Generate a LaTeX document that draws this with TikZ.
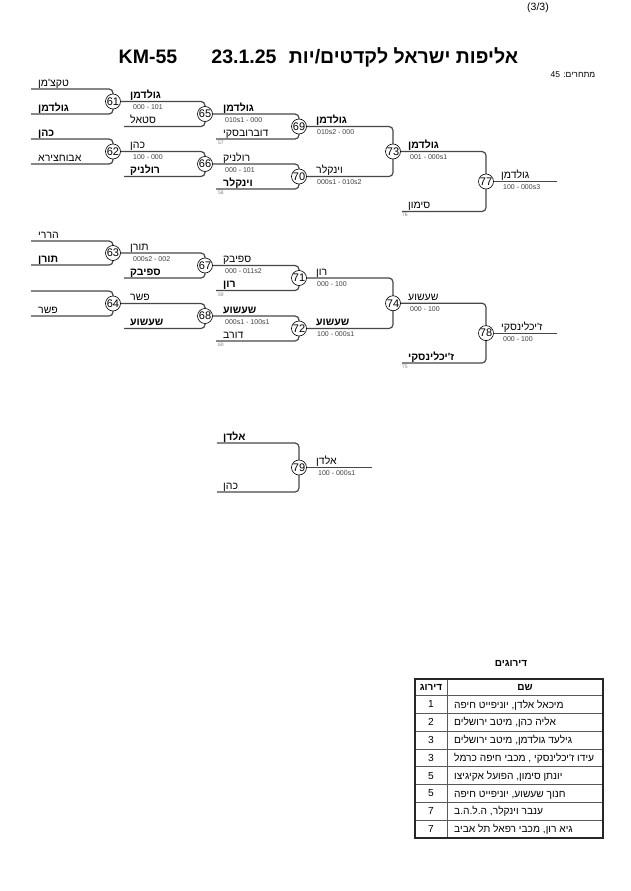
\documentclass[tikz,border=0pt]{standalone}
\usepackage{fontspec}
\setmainfont{Liberation Sans}
\newfontfamily\heb[Script=Hebrew]{Liberation Sans}
\TeXXeTstate=1
\newcommand\HB[1]{{\heb\beginR #1\endR}}
\definecolor{linec}{gray}{0.28}
\definecolor{scorec}{gray}{0.25}
\tikzset{
 br/.style={draw=linec, line width=1.2pt, rounded corners=4pt},
 num/.style={circle, draw=black, fill=white, line width=0.6pt, minimum size=15pt, inner sep=0pt, font=\fontsize{11}{11}\selectfont},
 nm/.style={anchor=base west, inner sep=0pt, font=\fontsize{10.5}{11}\selectfont\heb},
 nmb/.style={anchor=base west, inner sep=0pt, font=\fontsize{10.5}{11}\selectfont\heb\bfseries},
 sc/.style={anchor=west, inner sep=0pt, font=\fontsize{7}{8}\selectfont, text=scorec},
 srcn/.style={anchor=west, inner sep=0pt, font=\fontsize{5}{5}\selectfont, text=gray},
 ttl/.style={inner sep=0pt, font=\fontsize{19.5}{20}\selectfont\bfseries},
 tb/.style={inner sep=0pt, font=\fontsize{10.2}{11}\selectfont\heb},
}
\begin{document}
\begin{tikzpicture}[x=1pt,y=-1pt]
\fill[white] (0,0) rectangle (630,891);
\useasboundingbox (0,0) rectangle (630,891);
% header
\node[inner sep=0pt, font=\fontsize{10.5}{11}\selectfont] (page) at (538,8) {(3/3)};
\node[ttl] (km) at (148,57) {KM-55};
\node[ttl] (dt) at (244,57) {23.1.25};
\node[ttl, font=\fontsize{19.5}{20}\selectfont\heb\bfseries] (tt) at (403.5,57) {\beginR אליפות ישראל לקדטים/יות\endR};
\node[inner sep=0pt, font=\fontsize{8.5}{9}\selectfont\heb] (cnt) at (573,75) {\beginR מתחרים: \beginL 45\endL{}\endR};
% coordinates
\coordinate (p61) at (113,101.5); \coordinate (p62) at (113,151.5);
\coordinate (p63) at (113,253);   \coordinate (p64) at (113,303.5);
\coordinate (p65) at (205,114);   \coordinate (p66) at (205,164);
\coordinate (p67) at (205,265.5); \coordinate (p68) at (205,316);
\coordinate (p69) at (299,126.5); \coordinate (p70) at (299,176.5);
\coordinate (p71) at (299,278);   \coordinate (p72) at (299,328.5);
\coordinate (p73) at (393,151.5); \coordinate (p74) at (393,303.25);
\coordinate (p77) at (486,181.5); \coordinate (p78) at (486,333.1);
\coordinate (p79) at (299,467.5);
\coordinate (e77) at (557,181.5); \coordinate (e78) at (557,333.1);
\coordinate (e79) at (372,467.5);
\coordinate (a61) at (31,89);  \coordinate (b61) at (31,114);
\coordinate (a62) at (31,139); \coordinate (b62) at (31,164);
\coordinate (a63) at (31,241); \coordinate (b63) at (31,265);
\coordinate (a64) at (31,291); \coordinate (b64) at (31,316);
\coordinate (b65) at (124,126.5); \coordinate (b66) at (124,176.5);
\coordinate (b67) at (124,278);   \coordinate (b68) at (124,328.5);
\coordinate (b69) at (216,139);   \coordinate (b70) at (216,189);
\coordinate (b71) at (216,290.5); \coordinate (b72) at (216,341);
\coordinate (b77) at (402,211.5); \coordinate (b78) at (402,363);
\coordinate (a79) at (217,443);   \coordinate (b79) at (217,492);
% brackets
\draw[br] (a61) -| (p61) |- (b61);
\draw[br] (a62) -| (p62) |- (b62);
\draw[br] (a63) -| (p63) |- (b63);
\draw[br] (a64) -| (p64) |- (b64);
\draw[br] (p61) -| (p65) |- (b65);
\draw[br] (p62) -| (p66) |- (b66);
\draw[br] (p63) -| (p67) |- (b67);
\draw[br] (p64) -| (p68) |- (b68);
\draw[br] (p65) -| (p69) |- (b69);
\draw[br] (p66) -| (p70) |- (b70);
\draw[br] (p67) -| (p71) |- (b71);
\draw[br] (p68) -| (p72) |- (b72);
\draw[br] (p69) -| (p73) |- (p70);
\draw[br] (p71) -| (p74) |- (p72);
\draw[br] (p73) -| (p77) |- (b77);
\draw[br] (p74) -| (p78) |- (b78);
\draw[br] (p77) -- (e77);
\draw[br] (p78) -- (e78);
\draw[br] (a79) -| (p79) |- (b79);
\draw[br] (p79) -- (e79);
% circles
\foreach \m in {61,62,63,64,65,66,67,68,69,70,71,72,73,74,77,78,79}
  \node[num] (m\m) at (p\m) {\m};
% round 1 names
\node[nm]  (n61a) at (38,86)  {\HB{טקצ'מן}};
\node[nmb] (n61b) at (38,111) {\HB{גולדמן}};
\node[nmb] (n62a) at (38,136) {\HB{כהן}};
\node[nm]  (n62b) at (38,161) {\HB{אבוחצירא}};
\node[nm]  (n63a) at (38,238) {\HB{הררי}};
\node[nmb] (n63b) at (38,262) {\HB{תורן}};
\node[nm]  (n64b) at (38,313) {\HB{פשר}};
% round 2
\node[nmb] (n65a) at (130,98.5)  {\HB{גולדמן}};
\node[sc]  (s61)  at (133,107.5) {000 - 101};
\node[nm]  (n65b) at (130,123.5) {\HB{סטאל}};
\node[nm]  (n66a) at (130,148.5) {\HB{כהן}};
\node[sc]  (s62)  at (133,157.5) {100 - 000};
\node[nmb] (n66b) at (130,173.5) {\HB{רולניק}};
\node[nm]  (n67a) at (130,250)   {\HB{תורן}};
\node[sc]  (s63)  at (133,259)   {000s2 - 002};
\node[nmb] (n67b) at (130,275)   {\HB{ספיבק}};
\node[nm]  (n68a) at (130,300.5) {\HB{פשר}};
\node[nmb] (n68b) at (130,325.5) {\HB{שעשוע}};
% round 3
\node[nmb] (n69a) at (223,111)   {\HB{גולדמן}};
\node[sc]  (s65)  at (225,120)   {010s1 - 000};
\node[nm]  (n69b) at (223,136)   {\HB{דוברובסקי}};
\node[srcn] (q57) at (218,143)   {57};
\node[nm]  (n70a) at (223,161)   {\HB{רולניק}};
\node[sc]  (s66)  at (225,170)   {000 - 101};
\node[nmb] (n70b) at (223,186)   {\HB{וינקלר}};
\node[srcn] (q58) at (218,193)   {58};
\node[nm]  (n71a) at (223,262.5) {\HB{ספיבק}};
\node[sc]  (s67)  at (225,271.5) {000 - 011s2};
\node[nmb] (n71b) at (223,287.5) {\HB{רון}};
\node[srcn] (q59) at (218,294.5) {59};
\node[nmb] (n72a) at (223,313)   {\HB{שעשוע}};
\node[sc]  (s68)  at (225,322)   {000s1 - 100s1};
\node[nm]  (n72b) at (223,338)   {\HB{דורב}};
\node[srcn] (q60) at (218,345)   {60};
% round 4
\node[nmb] (n73a) at (316,123.5) {\HB{גולדמן}};
\node[sc]  (s69)  at (317,132.5) {010s2 - 000};
\node[nm]  (n73b) at (316,173.5) {\HB{וינקלר}};
\node[sc]  (s70)  at (317,182.5) {000s1 - 010s2};
\node[nm]  (n74a) at (316,275)   {\HB{רון}};
\node[sc]  (s71)  at (317,284)   {000 - 100};
\node[nmb] (n74b) at (316,325.5) {\HB{שעשוע}};
\node[sc]  (s72)  at (317,334.5) {100 - 000s1};
% round 5
\node[nmb] (n77a) at (408,148.5) {\HB{גולדמן}};
\node[sc]  (s73)  at (410,157.5) {001 - 000s1};
\node[nm]  (n77b) at (408,208.5) {\HB{סימון}};
\node[srcn] (q76) at (402,215)   {76};
\node[nm]  (n78a) at (408,300.25) {\HB{שעשוע}};
\node[sc]  (s74)  at (410,309.25) {000 - 100};
\node[nmb] (n78b) at (408,360)   {\HB{ז'יכלינסקי}};
\node[srcn] (q75) at (402,366.5) {75};
% finals
\node[nm]  (w77) at (501,178.5) {\HB{גולדמן}};
\node[sc]  (s77) at (503,187.5) {100 - 000s3};
\node[nm]  (w78) at (501,330.1) {\HB{ז'יכלינסקי}};
\node[sc]  (s78) at (503,339.1) {000 - 100};
% match 79
\node[nmb] (n79a) at (223,440)   {\HB{אלדן}};
\node[nm]  (n79b) at (223,489)   {\HB{כהן}};
\node[nm]  (w79)  at (316,464.5) {\HB{אלדן}};
\node[sc]  (s79)  at (318,473.5) {100 - 000s1};
% ranking table
\node[inner sep=0pt, font=\fontsize{10}{10}\selectfont\heb\bfseries] (rk) at (511,663) {\HB{דירוגים}};
\foreach \yy in {713.3,731.1,748.9,766.7,784.5,802.3,820.1}
  \draw[gray!70!black, line width=0.6pt] (415,\yy) -- (603,\yy);
\draw[gray!70!black, line width=0.6pt] (415,695.5) -- (603,695.5);
\draw[gray!70!black, line width=0.6pt] (447,679) -- (447,838);
\draw[black!85, line width=1.5pt] (415,679) rectangle (603,838);
\node[tb, font=\fontsize{10}{10}\selectfont\heb\bfseries] (h1) at (431,687.5) {\HB{דירוג}};
\node[tb, font=\fontsize{10}{10}\selectfont\heb\bfseries] (h2) at (525,687.5) {\HB{שם}};
\node[tb] (k1) at (431,704.4) {1};
\node[tb] (k2) at (431,722.2) {2};
\node[tb] (k3) at (431,740.0) {3};
\node[tb] (k4) at (431,757.8) {3};
\node[tb] (k5) at (431,775.6) {5};
\node[tb] (k6) at (431,793.4) {5};
\node[tb] (k7) at (431,811.2) {7};
\node[tb] (k8) at (431,829.0) {7};
\node[tb, anchor=base west] (t1) at (454,708) {\HB{מיכאל אלדן, יוניפייט חיפה}};
\node[tb, anchor=base west] (t2) at (454,725.8) {\HB{אליה כהן, מיטב ירושלים}};
\node[tb, anchor=base west] (t3) at (454,743.6) {\HB{גילעד גולדמן, מיטב ירושלים}};
\node[tb, anchor=base west] (t4) at (454,761.4) {\HB{עידו ז'יכלינסקי , מכבי חיפה כרמל}};
\node[tb, anchor=base west] (t5) at (454,779.2) {\HB{יונתן סימון, הפועל אקיגיצו}};
\node[tb, anchor=base west] (t6) at (454,797.0) {\HB{חנוך שעשוע, יוניפייט חיפה}};
\node[tb, anchor=base west] (t7) at (454,814.8) {\HB{ענבר וינקלר, ה.ל.ה.ב}};
\node[tb, anchor=base west] (t8) at (454,832.6) {\HB{גיא רון, מכבי רפאל תל אביב}};
\end{tikzpicture}
\end{document}
